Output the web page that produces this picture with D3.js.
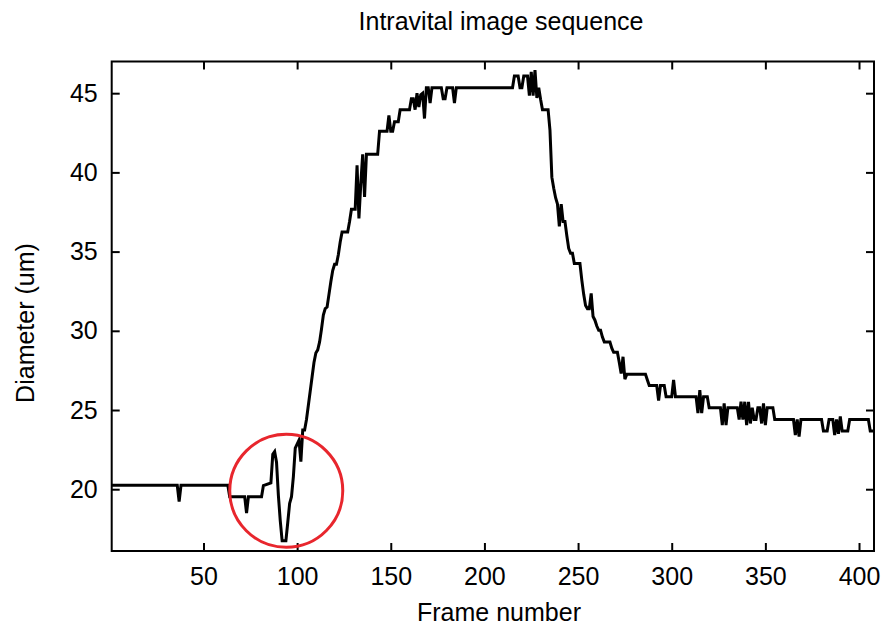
<!DOCTYPE html>
<html>
<head>
<meta charset="utf-8">
<script src="https://cdn.jsdelivr.net/npm/d3@7/dist/d3.min.js"></script>
<style>
  html, body { margin: 0; padding: 0; background: #fff; }
  text { font-family: "Liberation Sans", Arial, Helvetica, sans-serif; fill: #000; }
</style>
</head>
<body>
<svg id="chart" width="884" height="628"></svg>
<script>
// ---- data (vertices of the traced diameter curve) ----
const frames = [
  1, 36, 37, 38, 63, 64, 72, 73, 74, 81, 82, 86, 87, 88, 89, 90, 91, 92, 94, 95, 96, 97, 98, 99, 101, 102, 103, 104,
  105, 106, 107, 108, 109, 110, 111, 112, 113, 114, 115, 116, 117, 118, 119, 120, 121, 122, 123, 124, 127, 128, 129, 131,
  132, 133, 134, 135, 136, 137, 143, 144, 148, 149, 150, 151, 152, 154, 155, 160, 161, 162, 163, 164, 165, 166, 167, 168,
  169, 170, 171, 172, 177, 178, 179, 180, 183, 184, 185, 215, 216, 218, 219, 220, 221, 223, 224, 225, 226, 227, 228, 229,
  230, 231, 234, 235, 236, 237, 238, 239, 240, 241, 242, 243, 244, 245, 246, 247, 248, 251, 252, 253, 254, 255, 256, 257,
  258, 259, 260, 261, 262, 263, 264, 267, 268, 269, 271, 272, 273, 274, 275, 276, 286, 287, 288, 292, 293, 294, 296, 297,
  300, 301, 302, 313, 314, 315, 316, 317, 319, 320, 326, 327, 328, 329, 330, 335, 336, 337, 338, 339, 340, 341, 342, 343,
  344, 345, 346, 347, 348, 349, 350, 351, 354, 355, 365, 366, 367, 368, 369, 380, 381, 383, 384, 386, 387, 388, 389, 390,
  391, 394, 395, 405, 406, 408
];
const diameter = [
  20.25, 20.25, 19.22, 20.25, 20.25, 19.53, 19.53, 18.49, 19.53, 19.53, 20.23, 20.4, 22.2, 22.37, 21.7, 19.6, 18.0, 16.74, 16.74, 17.9, 19.1, 19.53, 20.8, 22.6, 23.1, 21.74, 23.74, 23.74,
  24.4, 25.3, 26.2, 27.1, 28.0, 28.6, 28.8, 29.3, 30.1, 31.0, 31.4, 31.5, 32.3, 33.1, 33.8, 34.2, 34.2, 34.8, 35.6, 36.24, 36.24, 36.9, 37.67, 37.67,
  40.45, 37.1, 39.3, 41.14, 38.45, 41.14, 41.14, 42.6, 42.6, 43.6, 42.6, 42.6, 43.2, 43.2, 43.96, 43.96, 44.65, 44.65, 43.96, 45.0, 44.12, 44.9, 45.0, 43.4,
  45.35, 45.35, 44.37, 45.35, 45.35, 44.65, 44.65, 45.35, 45.35, 44.37, 45.35, 45.35, 46.08, 46.08, 45.35, 45.35, 46.08, 46.08, 44.84, 46.35, 44.84, 46.45, 44.7, 45.35,
  44.6, 43.96, 43.96, 42.65, 39.7, 39.0, 38.4, 38.0, 36.6, 38.0, 36.9, 36.9, 36.0, 35.2, 34.9, 34.9, 34.25, 34.25, 33.2, 32.3, 31.6, 31.4, 31.4, 32.36,
  30.9, 30.67, 30.3, 30.04, 30.04, 29.6, 29.3, 29.3, 28.9, 28.64, 28.64, 28.0, 27.3, 28.36, 26.95, 27.25, 27.25, 26.9, 26.55, 26.55, 25.6, 26.55, 26.55, 25.84,
  25.84, 26.9, 25.84, 25.84, 24.8, 26.26, 24.8, 25.84, 25.84, 25.15, 25.15, 24.05, 25.42, 24.05, 25.15, 25.15, 24.4, 25.52, 24.4, 25.52, 24.05, 25.52, 24.15, 25.15,
  24.4, 24.4, 25.15, 25.15, 24.15, 25.42, 24.05, 25.15, 25.15, 24.4, 24.4, 23.42, 24.4, 23.32, 24.4, 24.4, 23.68, 23.68, 24.4, 24.4, 23.42, 24.4, 23.5, 24.6,
  23.68, 23.68, 24.4, 24.4, 23.68, 23.68
];
const xTicks = [50, 100, 150, 200, 250, 300, 350, 400];
const yTicks = [20, 25, 30, 35, 40, 45];
const xDomain = [1, 408];
const yDomain = [16.1, 47];
const highlight = { frame: 94.2, diameter: 19.9 };   // circled anomaly
const titleText = "Intravital image sequence";
const xLabel = "Frame number";
const yLabel = "Diameter (um)";

// ---- layout ----
const plotL = 111.7, plotR = 874, plotT = 61.5, plotB = 551;

const svg = d3.select("#chart");
const x = d3.scaleLinear().domain(xDomain).range([plotL, plotR]);
const y = d3.scaleLinear().domain(yDomain).range([plotB, plotT]);

const fontSize = 25;

// axes with inward ticks
const gx = svg.append("g").attr("transform", `translate(0,${plotB})`)
  .call(d3.axisBottom(x).tickValues(xTicks).tickSize(-8).tickSizeOuter(0).tickPadding(16));
const gxt = svg.append("g").attr("transform", `translate(0,${plotT})`)
  .call(d3.axisTop(x).tickValues(xTicks).tickSize(-8).tickSizeOuter(0).tickFormat(""));
const gy = svg.append("g").attr("transform", `translate(${plotL},0)`)
  .call(d3.axisLeft(y).tickValues(yTicks).tickSize(-8).tickSizeOuter(0).tickPadding(14));
const gyr = svg.append("g").attr("transform", `translate(${plotR},0)`)
  .call(d3.axisRight(y).tickValues(yTicks).tickSize(-8).tickSizeOuter(0).tickFormat(""));

[gx, gxt, gy, gyr].forEach(g => {
  g.select(".domain").remove();
  g.selectAll(".tick line").attr("stroke", "#000").attr("stroke-width", 2);
  g.selectAll(".tick text").attr("font-size", fontSize)
    .attr("font-family", "'Liberation Sans', Arial, sans-serif").attr("fill", "#000");
});

// frame
svg.append("rect")
  .attr("x", plotL).attr("y", plotT)
  .attr("width", plotR - plotL).attr("height", plotB - plotT)
  .attr("fill", "none").attr("stroke", "#000").attr("stroke-width", 2);

// data line
const pts = frames.map((f, i) => [f, diameter[i]]);
svg.append("path")
  .datum(pts)
  .attr("fill", "none")
  .attr("stroke", "#000")
  .attr("stroke-width", 3)
  .attr("stroke-linejoin", "miter")
  .attr("d", d3.line().x(d => x(d[0])).y(d => y(d[1])));

// red circle annotation
svg.append("circle")
  .attr("cx", x(highlight.frame))
  .attr("cy", y(highlight.diameter))
  .attr("r", 56.5)
  .attr("fill", "none")
  .attr("stroke", "#e8262d")
  .attr("stroke-width", 3);

// titles
svg.append("text")
  .attr("x", 501).attr("y", 30)
  .attr("text-anchor", "middle")
  .attr("font-size", fontSize)
  .text(titleText);

svg.append("text")
  .attr("x", 499).attr("y", 621)
  .attr("text-anchor", "middle")
  .attr("font-size", fontSize)
  .text(xLabel);

svg.append("text")
  .attr("transform", `translate(34,323) rotate(-90)`)
  .attr("text-anchor", "middle")
  .attr("font-size", fontSize)
  .text(yLabel);
</script>
</body>
</html>
